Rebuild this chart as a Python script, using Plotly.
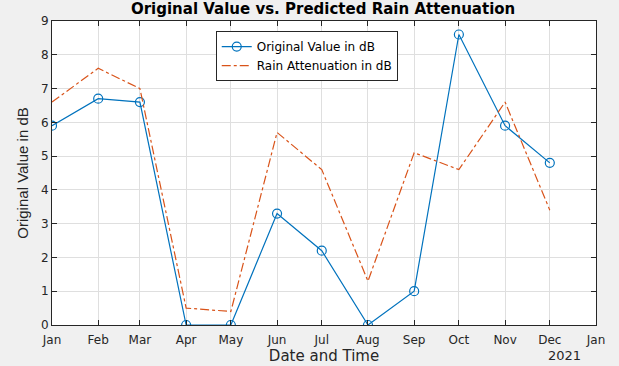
import plotly.graph_objects as go

months = ["2021-01-01", "2021-02-01", "2021-03-01", "2021-04-01", "2021-05-01", "2021-06-01",
          "2021-07-01", "2021-08-01", "2021-09-01", "2021-10-01", "2021-11-01", "2021-12-01"]
original_db = [5.9, 6.7, 6.6, 0.0, 0.0, 3.3, 2.2, 0.0, 1.0, 8.6, 5.9, 4.8]
rain_att_db = [6.6, 7.6, 7.0, 0.5, 0.4, 5.7, 4.6, 1.3, 5.1, 4.6, 6.6, 3.4]
tick_vals = months + ["2022-01-01"]
tick_text = ["Jan", "Feb", "Mar", "Apr", "May", "Jun", "Jul", "Aug", "Sep", "Oct", "Nov", "Dec", "Jan"]

font = "DejaVu Sans, Arial, sans-serif"
font2 = "Liberation Sans, Arial, sans-serif"
fig = go.Figure()
fig.add_trace(go.Scatter(x=months, y=original_db, mode="lines+markers", name="Original Value in dB",
                         line=dict(color="#0072BD", width=1.2),
                         marker=dict(symbol="circle-open", size=9, color="#0072BD", line=dict(width=1.2))))
fig.add_trace(go.Scatter(x=months, y=rain_att_db, mode="lines", name="Rain Attenuation in dB",
                         line=dict(color="#D95319", width=1.2, dash="dashdot")))

axis_common = dict(showline=True, linecolor="#262626", linewidth=1, mirror="ticks",
                   ticks="inside", ticklen=5, tickcolor="#262626", automargin=False,
                   showgrid=True, gridcolor="#DFDFDF", gridwidth=1, zeroline=False)
fig.update_layout(
    width=619, height=366,
    paper_bgcolor="#F0F0F0", plot_bgcolor="white",
    margin=dict(l=52, r=23, t=21, b=41),
    title=dict(text="<b>Original Value vs. Predicted Rain Attenuation</b>", x=0.522, xanchor="center",
               y=0.975, yanchor="middle", font=dict(family=font, size=15, color="black")),
    xaxis=dict(range=["2021-01-01", "2022-01-01"], tickmode="array", tickvals=tick_vals, ticktext=tick_text,
               tickfont=dict(family=font, size=12, color="#262626"), ticklabelstandoff=4,
               title=dict(text="Date and Time", font=dict(family=font, size=15, color="#262626"), standoff=2),
               **axis_common),
    yaxis=dict(range=[0, 9], dtick=1, tickfont=dict(family=font, size=12, color="#262626"),
               title=dict(text="Original Value in dB", font=dict(family=font2, size=15, color="#262626"), standoff=8),
               **axis_common),
    legend=dict(x=0.301, y=0.967, xanchor="left", yanchor="top", bgcolor="white",
                bordercolor="#262626", borderwidth=1, font=dict(family=font, size=12, color="black"),
                tracegroupgap=0, itemwidth=30),
    showlegend=True,
)
fig.add_annotation(text="2021", xref="paper", yref="paper", x=0.943, y=-0.099, showarrow=False,
                   xanchor="center", yanchor="middle", font=dict(family=font, size=13, color="#262626"))
fig.write_html("out.html", config={"displayModeBar": False},
               post_script="document.body.style.margin='0px';document.body.style.background='#F0F0F0';")
